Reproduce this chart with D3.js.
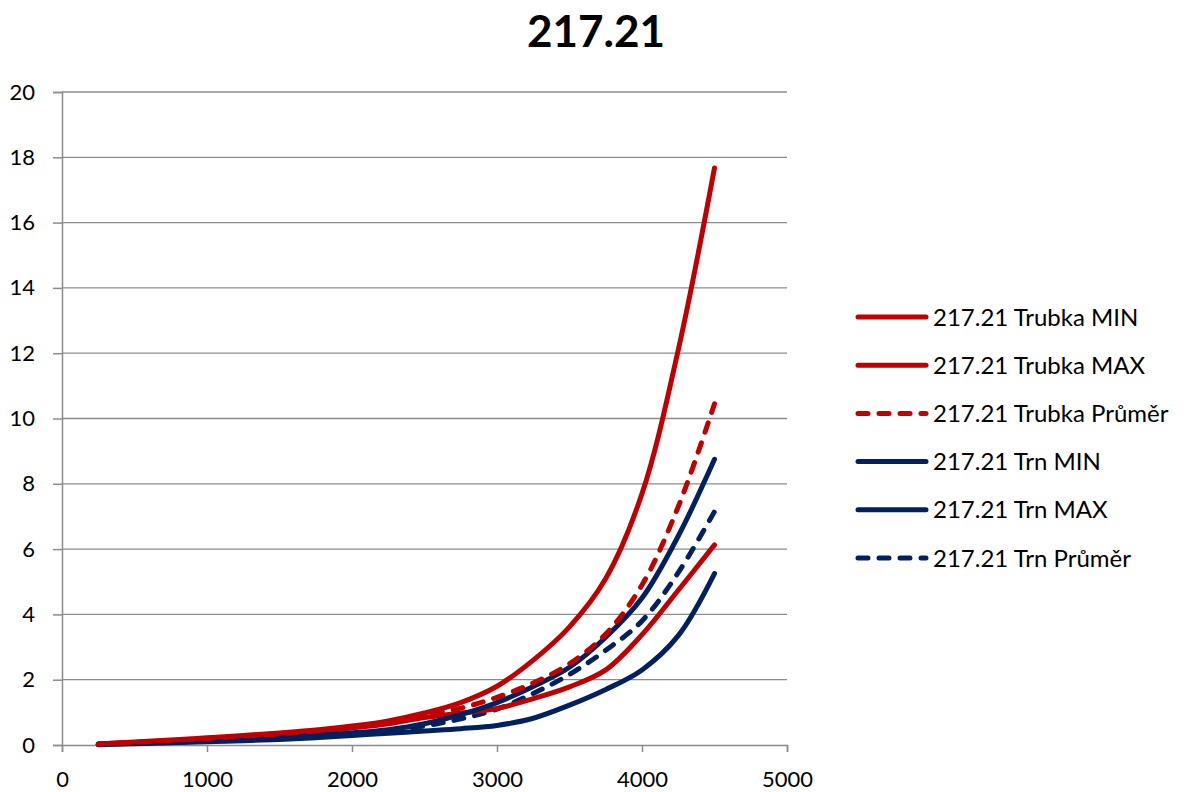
<!DOCTYPE html>
<html><head><meta charset="utf-8">
<script src="https://cdn.jsdelivr.net/npm/d3@7"></script>
<style>body{margin:0;background:#fff}svg{display:block}</style>
</head><body>
<svg id="c" width="1190" height="792"></svg>
<script>
const xs = [250,500,750,1000,1250,1500,1750,2000,2250,2500,2750,3000,3250,3500,3750,4000,4250,4500];
const trubkaMin = [0.03,0.09,0.15,0.22,0.29,0.37,0.46,0.58,0.74,0.98,1.3,1.8,2.6,3.62,5.1,7.7,12.1,17.67];
const trubkaMax = [0.03,0.08,0.13,0.19,0.25,0.32,0.41,0.52,0.65,0.84,0.98,1.12,1.42,1.78,2.3,3.38,4.74,6.13];
const trubkaAvg = [0.03,0.08,0.14,0.2,0.27,0.34,0.43,0.55,0.7,0.92,1.13,1.46,1.9,2.49,3.4,4.9,7.3,10.45];
const trnMin = [0.02,0.05,0.09,0.13,0.17,0.22,0.29,0.37,0.47,0.65,0.93,1.3,1.79,2.38,3.3,4.5,6.4,8.75];
const trnMax = [0.01,0.04,0.07,0.1,0.13,0.17,0.22,0.29,0.36,0.43,0.5,0.6,0.82,1.22,1.7,2.3,3.35,5.25];
const trnAvg = [0.02,0.05,0.08,0.12,0.15,0.2,0.26,0.33,0.42,0.58,0.8,1.1,1.58,2.16,2.9,3.8,5.28,7.15];
const seriesNames = ["217.21 Trubka MIN","217.21 Trubka MAX","217.21 Trubka Průměr","217.21 Trn MIN","217.21 Trn MAX","217.21 Trn Průměr"];
const yTicks = [0,2,4,6,8,10,12,14,16,18,20];
const xTicks = [0,1000,2000,3000,4000,5000];
const title = "217.21";

const RED = "#C00000", NAVY = "#002060";
const series = [
  {name: seriesNames[0], values: trubkaMin, color: RED, dash: null},
  {name: seriesNames[1], values: trubkaMax, color: RED, dash: null},
  {name: seriesNames[2], values: trubkaAvg, color: RED, dash: "10,11"},
  {name: seriesNames[3], values: trnMin, color: NAVY, dash: null},
  {name: seriesNames[4], values: trnMax, color: NAVY, dash: null},
  {name: seriesNames[5], values: trnAvg, color: NAVY, dash: "10,11"}
];

const svg = d3.select("#c");
const FONT = "Lato, 'Open Sans', sans-serif";
const L = 62, R = 787, T = 92, B = 745;
const x = d3.scaleLinear().domain([0,5000]).range([L,R]);
const y = d3.scaleLinear().domain([0,20]).range([B,T]);

svg.append("text").attr("x", 596).attr("y", 47).attr("text-anchor","middle")
  .attr("font-family", FONT).attr("font-weight","bold").attr("font-size", 44).text(title);

// gridlines
svg.append("g").selectAll("line").data(yTicks.filter(d=>d>0)).join("line")
  .attr("x1", L).attr("x2", R).attr("y1", d=>y(d)).attr("y2", d=>y(d))
  .attr("stroke","#8c8c8c").attr("stroke-width",1.3);

// y axis
const gy = svg.append("g").attr("transform", `translate(${L},0)`)
  .call(d3.axisLeft(y).tickValues(yTicks).tickSize(9).tickPadding(18));
// x axis
const gx = svg.append("g").attr("transform", `translate(0,${B})`)
  .call(d3.axisBottom(x).tickValues(xTicks).tickSize(7).tickPadding(19).tickFormat(d3.format("d")));
[gy,gx].forEach(g=>{
  g.selectAll("path,line").attr("stroke","#8c8c8c").attr("stroke-width",1.5);
  g.selectAll("text").attr("font-family", FONT).attr("font-size", 22).attr("fill","#000");
});

const line = d3.line().x((d,i)=>x(xs[i])).y(d=>y(d)).curve(d3.curveCatmullRom.alpha(0.5));
const order = [4,5,1,3,2,0];
svg.append("g").selectAll("path").data(order.map(i=>series[i])).join("path")
  .attr("d", d=>line(d.values)).attr("fill","none")
  .attr("stroke", d=>d.color).attr("stroke-width",5)
  .attr("stroke-linecap","round").attr("stroke-linejoin","round")
  .attr("stroke-dasharray", d=>d.dash);

// legend
const lg = svg.append("g");
const rowY = i => 317 + i*48.2;
series.forEach((s,i)=>{
  lg.append("line").attr("x1",858).attr("x2",926).attr("y1",rowY(i)).attr("y2",rowY(i))
    .attr("stroke",s.color).attr("stroke-width",5).attr("stroke-linecap","round")
    .attr("stroke-dasharray", s.dash ? "10,11" : null);
  lg.append("text").attr("x",933).attr("y",rowY(i)).attr("dy","0.36em")
    .attr("font-family",FONT).attr("font-size",24).text(s.name);
});
</script>
</body></html>
